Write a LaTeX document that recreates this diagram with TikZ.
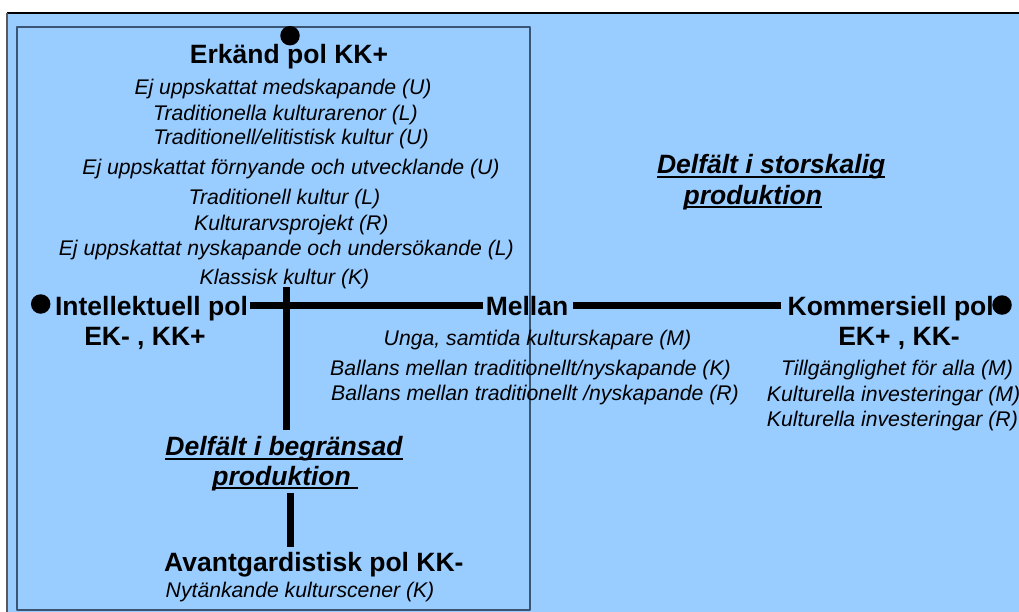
\documentclass[tikz,border=0pt]{standalone}
\usepackage{fontspec}
\setmainfont{Liberation Sans}
\usepackage{tikz}
\definecolor{fieldblue}{HTML}{99CCFF}
\definecolor{boxline}{HTML}{3A5474}
\newcommand\delfline[1]{\setbox0\hbox{#1}\rlap{\rule[-4pt]{\wd0}{1.6pt}}\box0}
\begin{document}
\begin{tikzpicture}[x=1pt,y=-1pt,join=round, % Faltet med poler
  pol/.style={font=\fontsize{26.5}{30}\selectfont\bfseries,inner sep=0pt,text height=19pt,text depth=0pt,anchor=base},
  item/.style={font=\fontsize{21.2}{24}\selectfont\itshape,inner sep=0pt,anchor=base},
  delf/.style={font=\fontsize{26.5}{30}\selectfont\bfseries\itshape,inner sep=0pt,anchor=base},
  dot/.style={circle,fill=black,inner sep=0pt,minimum size=19.5pt},
  axis/.style={line width=7pt}]
       \useasboundingbox (0,0) rectangle (1019,611);
       \fill[white] (0,0) rectangle (1019,611);
       \fill[fieldblue] (7,13) rectangle (1025,620);
       \draw[black,line width=1.2pt] (7,13) -- (1025,13);
       \draw[black!65,line width=1.8pt] (7,13) -- (7,620);
       \filldraw[fill=fieldblue,draw=boxline,line width=1.5pt] (17,27) rectangle (530,610);
        \node[dot] (topdot) at (290,35.7) {};
        \node[dot] (leftdot) at (40.7,304) {};
        \node[dot] (rightdot) at (1002,305) {};
       \node[pol] (erkand) at (289,63) {Erkänd pol KK+};
       \node[item] (i1) at (283,94.5) {Ej uppskattat medskapande (U)};
       \node[item] (i2) at (285.5,120) {Traditionella kulturarenor (L)};
       \node[item] (i3) at (291,144) {Traditionell/elitistisk kultur (U)};
       \node[item] (i4) at (291,174) {Ej uppskattat förnyande och utvecklande (U)};
       \node[item] (i5) at (284.5,204) {Traditionell kultur (L)};
       \node[item] (i6) at (291.3,230) {Kulturarvsprojekt (R)};
       \node[item] (i7) at (286.3,255) {Ej uppskattat nyskapande och undersökande (L)};
       \node[item] (klassisk) at (284.5,284) {Klassisk kultur (K)};
       \node[pol] (intell) at (151.5,315) {Intellektuell pol};
       \node[pol] (ekkk1) at (145,345.5) {EK- , KK+};
       \node[pol] (mellan) at (527,315) {Mellan};
       \node[pol] (komm) at (890.7,315) {Kommersiell pol};
       \node[pol] (ekkk2) at (899,345) {EK+ , KK-};
       \node[item] (unga) at (537.5,345) {Unga, samtida kulturskapare (M)};
       \node[item] (ballk) at (530.5,375.7) {Ballans mellan traditionellt/nyskapande (K)};
       \node[item] (ballr) at (535,400.7) {Ballans mellan traditionellt /nyskapande (R)};
       \node[item] (tillg) at (897,375.7) {Tillgänglighet för alla (M)};
       \node[item,anchor=base west] (kultm) at (766.7,401.7) {Kulturella investeringar (M)};
       \node[item,anchor=base west] (kultr) at (766.7,426) {Kulturella investeringar (R)};
       \node[delf] (stor1) at (771.2,173.5) {\delfline{Delfält i storskalig}};
       \node[delf] (stor2) at (752.8,204) {\delfline{produktion}};
       \node[delf] (begr1) at (284,455.7) {\delfline{Delfält i begränsad}};
       \node[delf] (begr2) at (285.3,485) {\delfline{produktion\ }};
       \node[pol,anchor=base west] (avant) at (164,571.7) {Avantgardistisk pol KK-};
       \node[item,anchor=base west] (nyt) at (165.5,597.7) {Nytänkande kulturscener (K)};
       \coordinate (vtop) at (286,287);
       \coordinate (vbot) at (290,493);
       \draw[axis] ([xshift=2pt]intell.east) -- ([xshift=-2.5pt]mellan.west);
       \draw[axis] ([xshift=5pt]mellan.east) -- ([xshift=-6pt]komm.west);
       \draw[axis] (vtop) -- (vtop |- begr1.north) [shorten >=6.5pt];
       \draw[axis,shorten >=5.7pt] (vbot) -- (vbot |- avant.north);
   \end{tikzpicture}
\end{document}
